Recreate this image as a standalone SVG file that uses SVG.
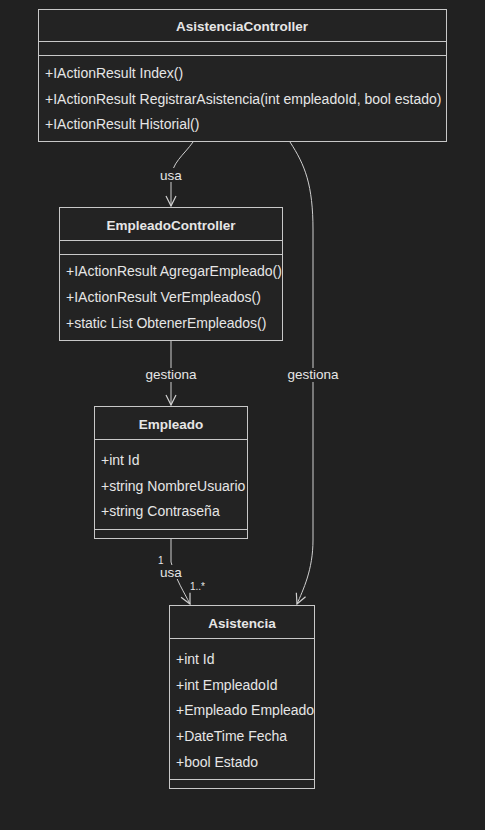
<svg xmlns="http://www.w3.org/2000/svg" width="485" height="830" viewBox="0 0 485 830">
<style>
.bg{fill:#212121}
.box{fill:#232323;stroke:#c8c8c8;stroke-width:1}
.div{stroke:#c8c8c8;stroke-width:1}
.t{font-family:"Liberation Sans",Arial,sans-serif;font-size:14px;fill:#e6e6e6}
.h{font-weight:bold;text-anchor:middle;font-size:13.5px}
.lbl{font-family:"Liberation Sans",Arial,sans-serif;font-size:13.5px;fill:#e6e6e6;text-anchor:middle}
.sm{font-family:"Liberation Sans",Arial,sans-serif;font-size:10px;fill:#e6e6e6}
.edge{fill:none;stroke:#d0d0d0;stroke-width:1}
</style>
<defs>
<marker id="arr" viewBox="0 0 12 12" refX="11" refY="6" markerWidth="12" markerHeight="12" orient="auto" markerUnits="userSpaceOnUse">
<path d="M1,1 L11,6 L1,11" fill="none" stroke="#d0d0d0" stroke-width="1.2"/>
</marker>
</defs>
<rect class="bg" x="0" y="0" width="485" height="830"/>

<g id="edges">
<path class="edge" d="M193,142 C184,155 171,163 171,180 L171,206" marker-end="url(#arr)"/>
<path class="edge" d="M290,142 C305,165 313,185 313,230 L313,540 C313,570 303,590 297,604" marker-end="url(#arr)"/>
<path class="edge" d="M171,341 L171,405" marker-end="url(#arr)"/>
<path class="edge" d="M171,539 L171,562 C176,580 184,592 190,604" marker-end="url(#arr)"/>
<rect x="159" y="168" width="24" height="14" class="bg"/>
<text class="lbl" x="171" y="180">usa</text>
<rect x="143" y="368" width="56" height="14" class="bg"/>
<text class="lbl" x="171" y="379">gestiona</text>
<rect x="285" y="368" width="56" height="14" class="bg"/>
<text class="lbl" x="313" y="379">gestiona</text>
<rect x="159" y="565" width="24" height="14" class="bg"/>
<text class="lbl" x="171" y="577">usa</text>
<text class="sm" x="158" y="564">1</text>
<text class="sm" x="190" y="590">1..*</text>
</g>

<g id="AsistenciaController">
<rect class="box" x="38.5" y="9.5" width="408" height="132"/>
<line class="div" x1="38.5" y1="41.5" x2="446.5" y2="41.5"/>
<line class="div" x1="38.5" y1="55.5" x2="446.5" y2="55.5"/>
<text class="t h" x="242" y="31">AsistenciaController</text>
<text class="t" x="45" y="78">+IActionResult Index()</text>
<text class="t" x="45" y="104">+IActionResult RegistrarAsistencia(int empleadoId, bool estado)</text>
<text class="t" x="45" y="129">+IActionResult Historial()</text>
</g>

<g id="EmpleadoController">
<rect class="box" x="59.5" y="207.5" width="223" height="133"/>
<line class="div" x1="59.5" y1="240.5" x2="282.5" y2="240.5"/>
<line class="div" x1="59.5" y1="254.5" x2="282.5" y2="254.5"/>
<text class="t h" x="171" y="230">EmpleadoController</text>
<text class="t" x="66" y="276">+IActionResult AgregarEmpleado()</text>
<text class="t" x="66" y="302">+IActionResult VerEmpleados()</text>
<text class="t" x="66" y="328">+static List ObtenerEmpleados()</text>
</g>

<g id="Empleado">
<rect class="box" x="94.5" y="406.5" width="153" height="132"/>
<line class="div" x1="94.5" y1="439.5" x2="247.5" y2="439.5"/>
<line class="div" x1="94.5" y1="529.5" x2="247.5" y2="529.5"/>
<text class="t h" x="171" y="429">Empleado</text>
<text class="t" x="101" y="465">+int Id</text>
<text class="t" x="101" y="491">+string NombreUsuario</text>
<text class="t" x="101" y="516">+string Contraseña</text>
</g>

<g id="Asistencia">
<rect class="box" x="169.5" y="605.5" width="145" height="183"/>
<line class="div" x1="169.5" y1="638.5" x2="314.5" y2="638.5"/>
<line class="div" x1="169.5" y1="779.5" x2="314.5" y2="779.5"/>
<text class="t h" x="242" y="628">Asistencia</text>
<text class="t" x="176" y="664">+int Id</text>
<text class="t" x="176" y="690">+int EmpleadoId</text>
<text class="t" x="176" y="715">+Empleado Empleado</text>
<text class="t" x="176" y="741">+DateTime Fecha</text>
<text class="t" x="176" y="767">+bool Estado</text>
</g>
</svg>
